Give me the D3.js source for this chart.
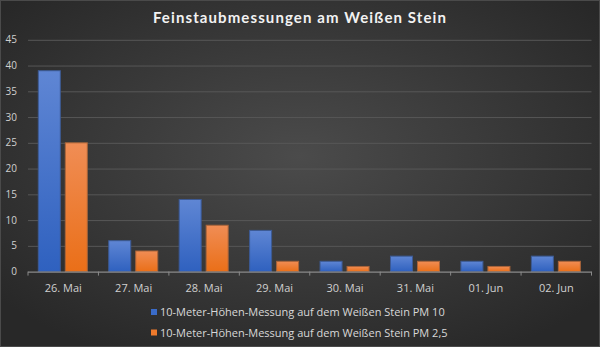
<!DOCTYPE html>
<html><head><meta charset="utf-8">
<script src="https://cdn.jsdelivr.net/npm/d3@7"></script>
<style>html,body{margin:0;padding:0;background:#333;}svg{display:block;}</style>
</head><body>
<script>
const categories = ["26. Mai","27. Mai","28. Mai","29. Mai","30. Mai","31. Mai","01. Jun","02. Jun"];
const seriesNames = ["10-Meter-Höhen-Messung auf dem Weißen Stein PM 10","10-Meter-Höhen-Messung auf dem Weißen Stein PM 2,5"];
const pm10 = [39,6,14,8,2,3,2,3];
const pm25 = [25,4,9,2,1,2,1,2];
const yTicks = [0,5,10,15,20,25,30,35,40,45];
const title = "Feinstaubmessungen am Weißen Stein";

(function(){
const W=600,H=347;
const svg=d3.select("body").append("svg").attr("width",W).attr("height",H);
const defs=svg.append("defs");
const bg=defs.append("radialGradient").attr("id","bg").attr("cx","50%").attr("cy","45%").attr("r","65%");
bg.append("stop").attr("offset","0%").attr("stop-color","#4b4b4b");
bg.append("stop").attr("offset","100%").attr("stop-color","#282828");
const gb=defs.append("linearGradient").attr("id","gb").attr("x1",0).attr("y1",0).attr("x2",0).attr("y2",1);
gb.append("stop").attr("offset","0%").attr("stop-color","#5f86d4");
gb.append("stop").attr("offset","100%").attr("stop-color","#2f61bf");
const go=defs.append("linearGradient").attr("id","go").attr("x1",0).attr("y1",0).attr("x2",0).attr("y2",1);
go.append("stop").attr("offset","0%").attr("stop-color","#f08d55");
go.append("stop").attr("offset","100%").attr("stop-color","#ea6f18");

svg.append("rect").attr("width",W).attr("height",H).attr("fill","url(#bg)");
svg.append("rect").attr("x",0.5).attr("y",0.5).attr("width",W-1).attr("height",H-1).attr("fill","none").attr("stroke","#4a4a4a");

const pLeft=28,pRight=591.5,pTop=39.8,pBottom=271.6;
const x=d3.scaleBand().domain(categories).range([pLeft,pRight]);
const y=d3.scaleLinear().domain([0,45]).range([pBottom,pTop]);

svg.append("text").attr("x",300).attr("y",23).attr("text-anchor","middle")
  .attr("fill","#f2f2f2").attr("font-family","Lato, 'Open Sans', sans-serif").attr("font-weight","bold")
  .attr("font-size",15).attr("letter-spacing",1.1).text(title);

svg.append("g").selectAll("line").data(yTicks.filter(d=>d>0)).join("line")
  .attr("x1",pLeft).attr("x2",pRight).attr("y1",d=>y(d)+0.5).attr("y2",d=>y(d)+0.5)
  .attr("stroke","#575757").attr("stroke-width",1);

svg.append("g").selectAll("text").data(yTicks).join("text")
  .attr("x",17).attr("y",d=>y(d)+3.5).attr("text-anchor","end")
  .attr("fill","#d0d0d0").attr("font-family","'Open Sans', sans-serif").attr("font-size",10).text(d=>d);

const bw=22, gap=5, off=10.3;
const bars=svg.append("g");
bars.selectAll(".b10").data(categories).join("rect").attr("class","b10")
  .attr("x",(d)=>x(d)+off).attr("y",(d,i)=>y(pm10[i])).attr("width",bw)
  .attr("height",(d,i)=>pBottom-y(pm10[i])).attr("fill","url(#gb)")
  .attr("stroke","#3c5a94").attr("stroke-width",1);
bars.selectAll(".b25").data(categories).join("rect").attr("class","b25")
  .attr("x",(d)=>x(d)+off+bw+gap).attr("y",(d,i)=>y(pm25[i])).attr("width",bw)
  .attr("height",(d,i)=>pBottom-y(pm25[i])).attr("fill","url(#go)")
  .attr("stroke","#a8643a").attr("stroke-width",1);

const xa=svg.append("g");
xa.append("line").attr("x1",pLeft).attr("x2",pRight).attr("y1",pBottom+0.5).attr("y2",pBottom+0.5).attr("stroke","#8a8a8a").attr("stroke-width",1.2);
const tickPos=categories.map(c=>x(c)).concat([pRight]);
xa.selectAll(".tk").data(tickPos).join("line").attr("class","tk")
  .attr("x1",d=>d).attr("x2",d=>d).attr("y1",pBottom).attr("y2",pBottom+4)
  .attr("stroke","#8a8a8a");
xa.selectAll(".xl").data(categories).join("text").attr("class","xl")
  .attr("x",d=>x(d)+x.bandwidth()/2).attr("y",292).attr("text-anchor","middle")
  .attr("fill","#d0d0d0").attr("font-family","'Open Sans', sans-serif").attr("font-size",11).text(d=>d);

const lg=svg.append("g");
const colors=["#3a6bc8","#ee7a2c"];
seriesNames.forEach((n,i)=>{
  const yy=312+i*20.5;
  lg.append("rect").attr("x",151).attr("y",yy-3).attr("width",6).attr("height",6).attr("fill",colors[i]);
  lg.append("text").attr("x",160).attr("y",yy+4).attr("fill","#d8d8d8")
    .attr("font-family","'Open Sans', sans-serif").attr("font-size",11).text(n);
});
})();
</script>
</body></html>
